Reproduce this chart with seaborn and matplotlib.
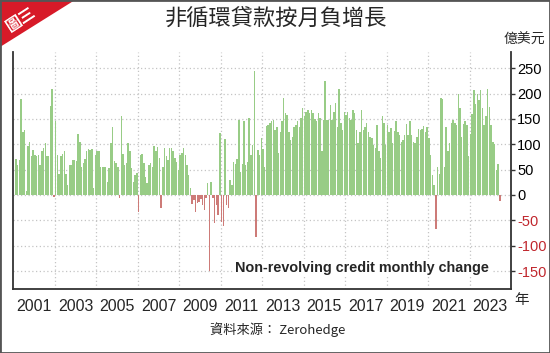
import numpy as np
import pandas as pd
import matplotlib
matplotlib.use('Agg')
import matplotlib.pyplot as plt
import seaborn as sns
from matplotlib.patches import Polygon, Rectangle

# Non-revolving consumer credit, monthly change (億美元), Feb 2000 - Jun 2023
y2000 = [71, 59, 69, 189, 125, 128, 8, 97, 104, 76, 89]  # starts Feb
y2001 = [79, 76, 79, 59, 87, 92, 102, 76, 76, 176, 209, -3]
y2002 = [145, 78, 41, 76, 80, 86, 41, 20, 59, 60, 69, 69]
y2003 = [68, 120, 105, 56, 64, 70, 87, 90, 89, 90, 13, 79]
y2004 = [86, 87, 56, 56, 56, 56, 26, 53, 102, 135, 67, 63]
y2005 = [56, -5, 155, 80, 59, 63, 102, 86, 53, 26, 39, 43]
y2006 = [-33, 79, 80, 63, 36, 23, 59, 63, 56, 97, 86, 95]
y2007 = [72, -25, 56, 92, 76, 69, 93, 92, 86, 72, 66, 49]
y2008 = [79, 82, 93, 79, 59, 39, 13, -18, -10, -33, -15, -13]
y2009 = [-8, -20, -30, -5, 23, -150, 25, -5, -56, -20, -40, 123]
y2010 = [-53, -62, 110, -20, -26, 30, 20, 66, 62, 70, 148, 46]
y2011 = [62, 145, 59, 66, 151, 79, 99, 245, -82, 89, 79, 112]
y2012 = [90, 56, 136, 138, 141, 145, 148, 128, 135, 82, 125, 145]
y2013 = [191, 161, 158, 125, 109, 115, 135, 138, 145, 135, 151, 171]
y2014 = [155, 164, 168, 161, 168, 161, 149, 145, 161, 151, 86, 148]
y2015 = [224, 148, 148, 178, 148, 164, 181, 135, 210, 141, 128, 164]
y2016 = [158, 164, 151, 148, 168, 161, 128, 102, 125, 168, 128, 135]
y2017 = [141, 125, 115, 112, 99, 93, 138, 86, 72, 155, 141, 99]
y2018 = [138, 125, 133, 102, 126, 145, 125, 118, 105, 109, 118, 140]
y2019 = [118, 145, 118, 105, 102, 115, 130, 128, 130, 136, 125, 135]
y2020 = [112, 79, 40, 20, -67, 56, 41, 192, 189, 56, 135, 86]
y2021 = [102, 141, 148, 141, 138, 199, 171, 115, 140, 145, 138, 76]
y2022 = [120, 159, 207, 179, 199, 187, 207, 172, 138, 155, 210, 174]
y2023 = [138, 104, 100, 49, 62, -12]

values = (y2000 + y2001 + y2002 + y2003 + y2004 + y2005 + y2006 + y2007
          + y2008 + y2009 + y2010 + y2011 + y2012 + y2013 + y2014 + y2015
          + y2016 + y2017 + y2018 + y2019 + y2020 + y2021 + y2022 + y2023)

year_ticks = list(range(2001, 2024, 2))
grid_years = list(range(2002, 2024, 2))
y_ticks = [-150, -100, -50, 0, 50, 100, 150, 200, 250]

dates = pd.date_range('2000-02-01', periods=len(values), freq='MS')
df = pd.DataFrame({'date': dates, 'change': values})
df['x'] = df['date'].dt.year + (df['date'].dt.month - 0.5) / 12
df['sign'] = np.where(df['change'] >= 0, 'up', 'down')

sns.set_style('white')
plt.rcParams['font.family'] = ['Liberation Sans Narrow', 'Liberation Sans', 'DejaVu Sans']
cjk = ['Noto Sans CJK TC', 'DejaVu Sans']

fig = plt.figure(figsize=(5.5, 3.53), dpi=100)
ax = fig.add_axes([13.3 / 550, 1 - 289.3 / 353, (511 - 13.3) / 550, (289.3 - 52) / 353])

sns.barplot(data=df, x='x', y='change', hue='sign',
            palette={'up': '#98cc86', 'down': '#cd7b78'},
            native_scale=True, dodge=False, width=0.85, saturation=1,
            linewidth=0, legend=False, ax=ax)

ax.set_xlim(2000, 2024)
ax.set_ylim(-186, 282)
ax.set_xlabel('')
ax.set_ylabel('')

# ticks & grid
ax.set_xticks(year_ticks)
ax.set_xticklabels([str(y) for y in year_ticks], fontsize=11.5)
ax.set_xticks(grid_years, minor=True)
ax.tick_params(axis='x', which='minor', length=0)
ax.tick_params(axis='x', which='major', direction='out', length=4, width=1, color='#333', pad=3)

ax.yaxis.tick_right()
ax.set_yticks(y_ticks)
ax.set_yticklabels([str(v) for v in y_ticks], fontsize=10.5)
for lab, v in zip(ax.get_yticklabels(), y_ticks):
    lab.set_color('#c0262d' if v < 0 else 'black')
ax.tick_params(axis='y', direction='out', length=3, width=1, color='#333', pad=1.5, right=True, left=False)

ax.grid(False)
ax.grid(axis='y', which='major', color='#c4c4c4', linestyle=(0, (1, 2)), linewidth=0.9)
ax.grid(axis='x', which='minor', color='#c4c4c4', linestyle=(0, (1, 2)), linewidth=0.9)
ax.set_axisbelow(True)

for side in ['left', 'bottom', 'right']:
    ax.spines[side].set_visible(True)
    ax.spines[side].set_color('#333333')
    ax.spines[side].set_linewidth(1.3)
ax.spines['top'].set_visible(False)

# texts
fig.text(276 / 550, 1 - 19 / 353, '非循環貸款按月負增長', family=cjk, fontsize=16,
         ha='center', va='center')
fig.text(524 / 550, 1 - 40 / 353, '億美元', family=cjk, fontsize=10,
         ha='center', va='center')
fig.text(522 / 550, 1 - 300 / 353, '年', family=cjk, fontsize=10.5,
         ha='center', va='center')
fig.text(278 / 550, 1 - 330 / 353, '資料來源： Zerohedge', family=['Noto Sans CJK TC', 'Liberation Sans'],
         fontsize=9.5, ha='center', va='center')
fig.text(362 / 550, 1 - 268 / 353, 'Non-revolving credit monthly change',
         family=['Liberation Sans', 'DejaVu Sans'], fontweight='bold', fontsize=10.4,
         ha='center', va='center',
         bbox=dict(facecolor='white', edgecolor='none', pad=1.5))

# corner badge
fig.patches.append(Polygon([(0, 1), (75 / 550, 1), (0, 1 - 47 / 353)], closed=True,
                           transform=fig.transFigure, facecolor='#d71a28', edgecolor='none'))
fig.text(21 / 550, 1 - 19 / 353, '圖三', family=cjk, fontsize=11.5, fontweight='bold',
         color='white', rotation=33, ha='center', va='center')

# outer frame
fig.patches.append(Rectangle((0, 0), 1, 1, transform=fig.transFigure, fill=False,
                             edgecolor='#555555', linewidth=2))

fig.savefig('out.png', dpi=100)
